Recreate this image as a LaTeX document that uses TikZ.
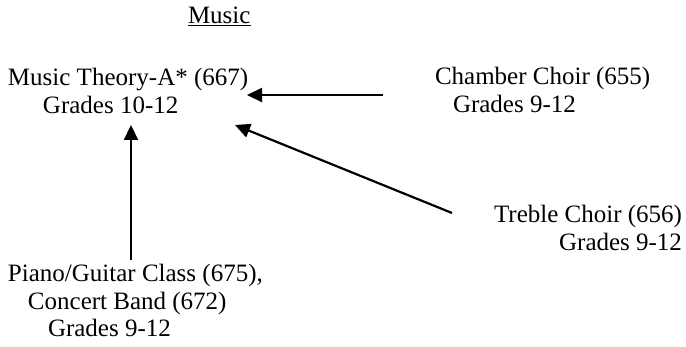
\documentclass[tikz,border=0pt]{standalone}
\usepackage{fontspec}
\setmainfont{Liberation Serif}
\usetikzlibrary{arrows.meta}
\begin{document}
\begin{tikzpicture}[x=1pt,y=-1pt,
  lbl/.style={inner sep=0pt,outer sep=0pt,font=\fontsize{25}{27.5}\selectfont},
  arr/.style={line width=2.2pt,-{Triangle[length=15pt,width=14pt]}}]
\useasboundingbox (0,0) rectangle (686,347);
\node[lbl,anchor=base west] (title) at (188,24) {\underline{Music}};
\node[lbl,anchor=base west] (theory) at (8,86)
  {\begin{tabular}[t]{@{}l@{}}Music Theory-A* (667)\\\hspace*{35pt}Grades 10-12\end{tabular}};
\node[lbl,anchor=base west] (chamber) at (435,85)
  {\begin{tabular}[t]{@{}l@{}}Chamber Choir (655)\\\hspace*{18pt}Grades 9-12\end{tabular}};
\node[lbl,anchor=base east] (treble) at (682,223)
  {\begin{tabular}[t]{@{}r@{}}Treble Choir (656)\\Grades 9-12\end{tabular}};
\node[lbl,anchor=base west] (piano) at (8,282)
  {\begin{tabular}[t]{@{}l@{}}Piano/Guitar Class (675),\\\hspace*{20pt}Concert Band (672)\\\hspace*{40pt}Grades 9-12\end{tabular}};
\draw[arr] ([shift={(-52,10)}]chamber.base west) -- ([shift={(239,9)}]theory.base west);
\draw[arr] ([shift={(-230,-10)}]treble.base east) -- ([shift={(227,39)}]theory.base west);
\draw[arr] ([shift={(123,-22)}]piano.base west) -- ([shift={(123,39)}]theory.base west);
\end{tikzpicture}
\end{document}
